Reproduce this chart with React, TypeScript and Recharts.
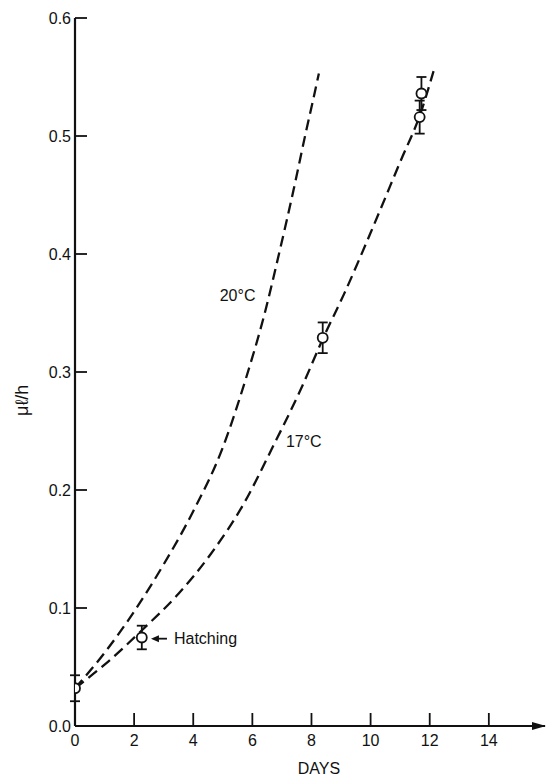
import { ComposedChart, Line, Scatter, ErrorBar, XAxis, YAxis, ReferenceDot } from 'recharts'

// fitted curves
const days20 = [0, 1, 2, 3, 4, 5, 5.8, 6.4, 6.9, 7.4, 7.8, 8.05, 8.25]
const rate20 = [0.032, 0.062, 0.097, 0.137, 0.182, 0.236, 0.296, 0.348, 0.4, 0.455, 0.502, 0.53, 0.553]

const days17 = [0, 1.0, 2.3, 3.5, 4.6, 5.7, 6.7, 7.65, 8.4, 9.1, 10.0, 11.0, 11.7, 12.13]
const rate17 = [0.032, 0.052, 0.082, 0.112, 0.146, 0.188, 0.237, 0.286, 0.329, 0.366, 0.418, 0.478, 0.52, 0.555]

// measured points (17 °C) with error bars
const obsDays = [0, 2.26, 8.38, 11.66, 11.72]
const obsRate = [0.032, 0.075, 0.329, 0.516, 0.536]
const obsErr = [0.011, 0.01, 0.013, 0.014, 0.014]

const xTicks = [0, 2, 4, 6, 8, 10, 12, 14]
const yTicks = [0, 0.1, 0.2, 0.3, 0.4, 0.5, 0.6]

const INK = '#111'
const FONT = '"Liberation Sans", Arial, sans-serif'

const curve20 = days20.map((d, i) => ({ day: d, rate: rate20[i] }))
const curve17 = days17.map((d, i) => ({ day: d, rate: rate17[i] }))
const observed = obsDays.map((d, i) => ({ day: d, rate: obsRate[i], err: obsErr[i] }))

function XTick(props: any) {
  const { x, y, payload } = props
  return (
    <g>
      <line x1={x} y1={y} x2={x} y2={y - 13} stroke={INK} strokeWidth={1.8} />
      <text x={x} y={y + 20} textAnchor="middle" fontSize={16} fill={INK} fontFamily={FONT}>
        {payload.value}
      </text>
    </g>
  )
}

function YTick(props: any) {
  const { x, y, payload } = props
  return (
    <g>
      <line x1={x} y1={y} x2={x + 12} y2={y} stroke={INK} strokeWidth={1.8} />
      <text x={x - 4} y={y} dy="0.35em" textAnchor="end" fontSize={16} fill={INK} fontFamily={FONT}>
        {Number(payload.value).toFixed(1)}
      </text>
    </g>
  )
}

function Ring(props: any) {
  const { cx, cy } = props
  return <circle cx={cx} cy={cy} r={5} fill="#fff" stroke={INK} strokeWidth={1.8} />
}

function TextAt(text: string) {
  return (props: any) => (
    <text x={props.cx} y={props.cy} dy="0.35em" textAnchor="middle" fontSize={16} fill={INK} fontFamily={FONT}>
      {text}
    </text>
  )
}

function HatchNote(props: any) {
  const { cx, cy } = props
  return (
    <g>
      <polygon points={`${cx},${cy} ${cx + 8},${cy - 3.5} ${cx + 8},${cy + 3.5}`} fill={INK} />
      <line x1={cx + 6} y1={cy} x2={cx + 16} y2={cy} stroke={INK} strokeWidth={1.8} />
      <text x={cx + 23} y={cy} dy="0.35em" fontSize={16} fill={INK} fontFamily={FONT}>
        Hatching
      </text>
    </g>
  )
}

function AxisArrow(props: any) {
  const { cx, cy } = props
  return <polygon points={`${cx + 1},${cy} ${cx - 13},${cy - 4} ${cx - 13},${cy + 4}`} fill={INK} />
}

export default function App() {
  return (
    <div style={{ position: 'absolute', left: 0, top: 0, background: '#fff' }}>
      <ComposedChart width={547} height={780} margin={{ top: 18, right: 2, bottom: 0, left: 0 }}>
        <XAxis
          type="number"
          dataKey="day"
          domain={[0, 15.9]}
          ticks={xTicks}
          allowDataOverflow
          height={54}
          tickSize={0}
          tickMargin={0}
          tickLine={false}
          tick={<XTick />}
          axisLine={{ stroke: INK, strokeWidth: 2.2 }}
          label={{
            content: ({ viewBox }: any) => (
              <text
                x={viewBox.x + viewBox.width / 2 + 9}
                y={viewBox.y + 48}
                textAnchor="middle"
                fontSize={16}
                fill={INK}
                fontFamily={FONT}
              >
                DAYS
              </text>
            ),
          }}
        />
        <YAxis
          type="number"
          dataKey="rate"
          domain={[0, 0.6]}
          ticks={yTicks}
          width={75}
          tickSize={0}
          tickMargin={0}
          tickLine={false}
          tick={<YTick />}
          axisLine={{ stroke: INK, strokeWidth: 2.2 }}
          label={{
            content: ({ viewBox }: any) => {
              const lx = viewBox.x + 22
              const ly = viewBox.y + viewBox.height * 0.54
              return (
                <text
                  x={lx}
                  y={ly}
                  transform={`rotate(-90 ${lx} ${ly})`}
                  textAnchor="middle"
                  dominantBaseline="central"
                  fontSize={18}
                  fill={INK}
                  fontFamily={FONT}
                >
                  μℓ/h
                </text>
              )
            },
          }}
        />
        <Line
          data={curve20}
          dataKey="rate"
          type="monotone"
          stroke={INK}
          strokeWidth={2.3}
          strokeDasharray="11 6"
          dot={false}
          isAnimationActive={false}
        />
        <Line
          data={curve17}
          dataKey="rate"
          type="monotone"
          stroke={INK}
          strokeWidth={2.3}
          strokeDasharray="11 6"
          dot={false}
          isAnimationActive={false}
        />
        <Scatter data={observed} dataKey="rate" shape={<Ring />} isAnimationActive={false}>
          <ErrorBar dataKey="err" direction="y" width={5} stroke={INK} strokeWidth={1.8} />
        </Scatter>
        <ReferenceDot x={5.5} y={0.365} r={0} ifOverflow="visible" shape={TextAt('20°C')} />
        <ReferenceDot x={7.74} y={0.241} r={0} ifOverflow="visible" shape={TextAt('17°C')} />
        <ReferenceDot x={2.57} y={0.074} r={0} ifOverflow="visible" shape={<HatchNote />} />
        <ReferenceDot x={15.9} y={0} r={0} ifOverflow="visible" shape={<AxisArrow />} />
      </ComposedChart>
    </div>
  )
}
